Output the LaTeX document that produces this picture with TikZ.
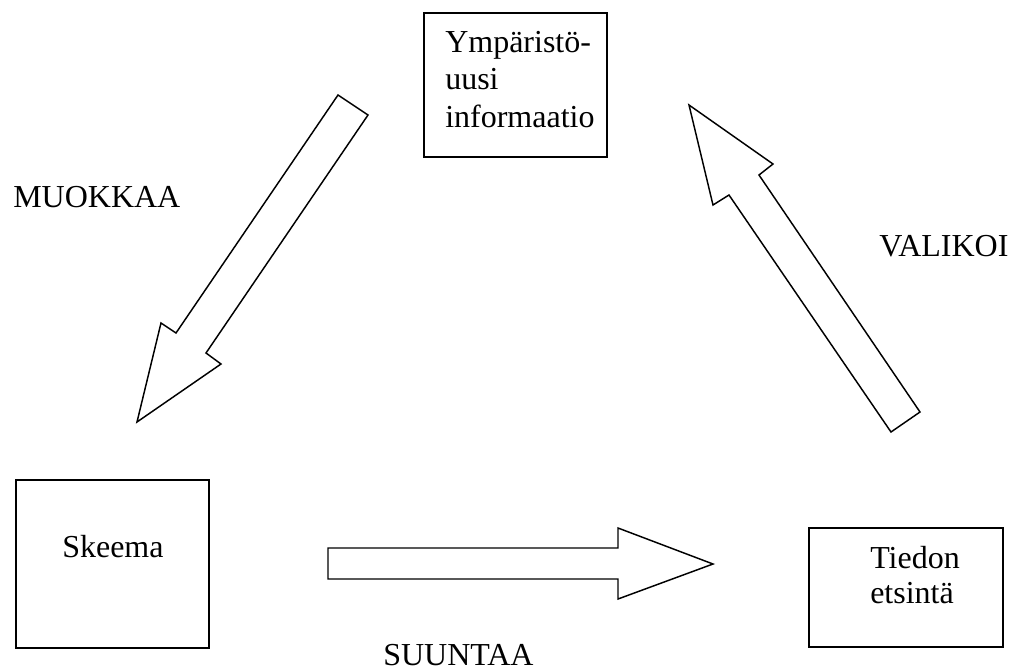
\documentclass[tikz,border=0pt]{standalone}
\usepackage{fontspec}
\setmainfont{Liberation Serif}
\begin{document}
\begin{tikzpicture}[x=0.75pt,y=-0.75pt,line join=miter,
  box/.style={draw,line width=1.1pt,inner sep=0pt},
  txt/.style={inner sep=0pt,font=\fontsize{24}{28}\selectfont,align=left},
  blockarrow/.style={draw,line width=1.1pt,fill=white}]
\useasboundingbox (0,0) rectangle (1018,668);

% boxes
\node[box,minimum width=137.25pt,minimum height=108pt] (env) at (515.5,85) {};
\node[box,minimum width=144.75pt,minimum height=126pt] (schema) at (112.5,564) {};
\node[box,minimum width=145.5pt,minimum height=89.25pt] (search) at (906,587.5) {};

% box texts
\node[txt,anchor=north west] (envtxt) at (445,31) {Ympäristö-\\uusi\\informaatio};
\node[txt,anchor=base west] (schematxt) at (62,557) {Skeema};
\node[txt,anchor=north west,font=\fontsize{24}{26.25}\selectfont] (searchtxt) at (870,546) {Tiedon\\etsintä};

% labels
\node[txt,anchor=base west] (lmod) at (13,207) {MUOKKAA};
\node[txt,anchor=base west] (lsel) at (879,256) {VALIKOI};
\node[txt,anchor=base west] (ldir) at (383,665) {SUUNTAA};

% block arrows
\draw[blockarrow] (338,95) -- (368,115) -- (206,353) -- (221,364) -- (137,422)
  -- (161,323) -- (176,333) -- cycle;
\draw[blockarrow] (689,105) -- (773,164) -- (759,175) -- (920,412) -- (891,432)
  -- (729,195) -- (713,205) -- cycle;
\draw[blockarrow] (328,548) -- (618,548) -- (618,528) -- (713,564) -- (618,599)
  -- (618,579) -- (328,579) -- cycle;
\end{tikzpicture}
\end{document}
